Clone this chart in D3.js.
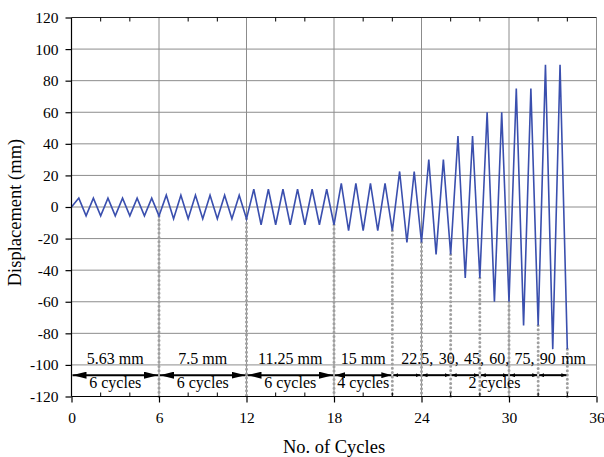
<!DOCTYPE html>
<html>
<head>
<meta charset="utf-8">
<script src="https://cdn.jsdelivr.net/npm/d3@7"></script>
<style>
  body { margin: 0; background: #fff; }
  svg text { font-family: "Liberation Serif", "Times New Roman", serif; fill: #000; }
</style>
</head>
<body>
<div id="vis"></div>
<script>
// half-cycle points of the loading protocol
var cycleNo = [0,
  0.5, 1, 1.5, 2, 2.5, 3, 3.5, 4, 4.5, 5, 5.5, 6,
  6.5, 7, 7.5, 8, 8.5, 9, 9.5, 10, 10.5, 11, 11.5, 12,
  12.5, 13, 13.5, 14, 14.5, 15, 15.5, 16, 16.5, 17, 17.5, 18,
  18.5, 19, 19.5, 20, 20.5, 21, 21.5, 22,
  22.5, 23, 23.5, 24, 24.5, 25, 25.5, 26, 26.5, 27, 27.5, 28,
  28.5, 29, 29.5, 30, 30.5, 31, 31.5, 32, 32.5, 33, 33.5, 34];
var displacement = [0,
  5.63, -5.63, 5.63, -5.63, 5.63, -5.63, 5.63, -5.63, 5.63, -5.63, 5.63, -5.63,
  7.5, -7.5, 7.5, -7.5, 7.5, -7.5, 7.5, -7.5, 7.5, -7.5, 7.5, -7.5,
  11.25, -11.25, 11.25, -11.25, 11.25, -11.25, 11.25, -11.25, 11.25, -11.25, 11.25, -11.25,
  15, -15, 15, -15, 15, -15, 15, -15,
  22.5, -22.5, 22.5, -22.5, 30, -30, 30, -30, 45, -45, 45, -45,
  60, -60, 60, -60, 75, -75, 75, -75, 90, -90, 90, -90];

// amplitude groups
var groupStart = [0, 6, 12, 18];
var groupEnd = [6, 12, 18, 22];
var amplitudeLabels = ["5.63 mm", "7.5 mm", "11.25 mm", "15 mm"];
var cycleLabels = ["6 cycles", "6 cycles", "6 cycles", "4 cycles"];
var smallStart = [22, 24, 26, 28, 30, 32];
var smallEnd = [24, 26, 28, 30, 32, 34];
var lastAmpLabel = "22.5, 30, 45, 60, 75, 90 mm";
var lastCycleLabel = "2 cycles";
var dropAt = [6, 12, 18, 22, 24, 26, 28, 30, 32, 34];

var xTicks = [0, 6, 12, 18, 24, 30, 36];
var xMinor = [2, 4, 8, 10, 14, 16, 20, 22, 26, 28, 32, 34];
var yTicks = [-120, -100, -80, -60, -40, -20, 0, 20, 40, 60, 80, 100, 120];

var W = 604, H = 457;
var pL = 71.5, pR = 596.5, pT = 17.5, pB = 396.5;

var svg = d3.select("#vis").append("svg").attr("width", W).attr("height", H);

var x = d3.scaleLinear().domain([0, 36]).range([pL, pR]);
var y = d3.scaleLinear().domain([-120, 120]).range([pB, pT]);

var defs = svg.append("defs");
function marker(id, len, half, reverse){
  var m = defs.append("marker").attr("id", id)
    .attr("markerUnits", "userSpaceOnUse")
    .attr("markerWidth", len).attr("markerHeight", half * 2)
    .attr("viewBox", "0 0 " + len + " " + (half * 2))
    .attr("refX", reverse ? 0 : len).attr("refY", half)
    .attr("orient", "auto");
  m.append("path").attr("d", reverse
      ? "M0," + half + "L" + len + ",0L" + len + "," + (half * 2) + "Z"
      : "M" + len + "," + half + "L0,0L0," + (half * 2) + "Z")
    .attr("fill", "#000");
}
marker("bigEnd", 14, 3.5, false);
marker("bigStart", 14, 3.5, true);
marker("midEnd", 10, 3, false);
marker("midStart", 10, 3, true);
marker("smEnd", 5, 2, false);
marker("smStart", 5, 2, true);

// gridlines
svg.append("g").selectAll("line").data(yTicks.filter(function(d){ return d > -120 && d < 120; }))
  .enter().append("line")
  .attr("x1", pL).attr("x2", pR)
  .attr("y1", function(d){ return y(d); }).attr("y2", function(d){ return y(d); })
  .attr("stroke", "#8c8c8c").attr("stroke-width", 1);
svg.append("g").selectAll("line").data(xTicks.filter(function(d){ return d > 0 && d < 36; }))
  .enter().append("line")
  .attr("y1", pT).attr("y2", pB)
  .attr("x1", function(d){ return x(d); }).attr("x2", function(d){ return x(d); })
  .attr("stroke", "#8c8c8c").attr("stroke-width", 1);

// right border
svg.append("line").attr("x1", pR).attr("x2", pR).attr("y1", pT).attr("y2", pB)
  .attr("stroke", "#8c8c8c");

// dotted drop lines from trough to bottom
svg.append("g").selectAll("line").data(dropAt).enter().append("line")
  .attr("x1", function(d){ return x(d); }).attr("x2", function(d){ return x(d); })
  .attr("y1", function(d){ return y(displacement[cycleNo.indexOf(d)]); })
  .attr("y2", pB)
  .attr("stroke", "#a0a0a0").attr("stroke-width", 3)
  .attr("stroke-linecap", "round").attr("stroke-dasharray", "0,4.3");

// displacement history
var pts = cycleNo.map(function(c, i){ return [c, displacement[i]]; });
svg.append("path").datum(pts)
  .attr("d", d3.line().x(function(d){ return x(d[0]); }).y(function(d){ return y(d[1]); }))
  .attr("fill", "none").attr("stroke", "#3a4fae").attr("stroke-width", 1.6)
  .attr("stroke-linejoin", "miter");

// axes
var fmt = function(d){ return String(d); };
var xAxis = svg.append("g").attr("transform", "translate(0," + pB + ")")
  .call(d3.axisBottom(x).tickValues(xTicks).tickSize(6).tickPadding(9).tickFormat(fmt));
var yAxis = svg.append("g").attr("transform", "translate(" + pL + ",0)")
  .call(d3.axisLeft(y).tickValues(yTicks).tickSize(6).tickPadding(7).tickFormat(fmt));
[xAxis, yAxis].forEach(function(a){
  a.select(".domain").attr("stroke", "#000").attr("stroke-width", 1.2);
  a.selectAll(".tick line").attr("stroke", "#000").attr("stroke-width", 1.2);
  a.selectAll("text").style("font-size", "15.5px")
    .style("font-family", "'Liberation Serif', 'Times New Roman', serif");
});
xAxis.select(".domain").attr("d", "M" + pL + ",0H" + pR);
yAxis.select(".domain").attr("d", "M0," + pT + "V" + pB);

// top border and minor ticks
svg.append("line").attr("x1", pL).attr("x2", pR).attr("y1", pT).attr("y2", pT)
  .attr("stroke", "#222").attr("stroke-width", 1.2);
svg.append("g").selectAll("line").data(xMinor).enter().append("line")
  .attr("x1", function(d){ return x(d); }).attr("x2", function(d){ return x(d); })
  .attr("y1", pT).attr("y2", pT + 4).attr("stroke", "#000");
svg.append("g").selectAll("line").data(xMinor).enter().append("line")
  .attr("x1", function(d){ return x(d); }).attr("x2", function(d){ return x(d); })
  .attr("y1", pB).attr("y2", pB - 4).attr("stroke", "#000");

// annotation arrows
var arrowY = y(-106.5);
var sizes = ["big", "big", "big", "mid"];
groupStart.forEach(function(s, i){
  svg.append("line").attr("x1", x(s) + 1).attr("x2", x(groupEnd[i]) - 1)
    .attr("y1", arrowY).attr("y2", arrowY)
    .attr("stroke", "#000").attr("stroke-width", 2)
    .attr("marker-start", "url(#" + sizes[i] + "Start)")
    .attr("marker-end", "url(#" + sizes[i] + "End)");
  svg.append("text").attr("x", x((s + groupEnd[i]) / 2)).attr("y", y(-100) - 1)
    .attr("text-anchor", "middle").style("font-size", "16px").text(amplitudeLabels[i]);
  svg.append("text").attr("x", x((s + groupEnd[i]) / 2)).attr("y", y(-114.5))
    .attr("text-anchor", "middle").style("font-size", "16px").text(cycleLabels[i]);
});
smallStart.forEach(function(s, i){
  svg.append("line").attr("x1", x(s) + 1).attr("x2", x(smallEnd[i]) - 1)
    .attr("y1", arrowY).attr("y2", arrowY)
    .attr("stroke", "#000").attr("stroke-width", 2)
    .attr("marker-start", "url(#smStart)").attr("marker-end", "url(#smEnd)");
});
svg.append("text").attr("x", x(28.95)).attr("y", y(-100) - 1)
  .attr("text-anchor", "middle").style("font-size", "16px").style("word-spacing", "1.3px")
  .text(lastAmpLabel);
svg.append("text").attr("x", x(29)).attr("y", y(-114.5))
  .attr("text-anchor", "middle").style("font-size", "16px").text(lastCycleLabel);

// axis titles
svg.append("text").attr("x", x(18)).attr("y", 453)
  .attr("text-anchor", "middle").style("font-size", "18.5px").text("No. of Cycles");
svg.append("text").attr("transform", "translate(21," + y(-3.5) + ") rotate(-90)")
  .attr("text-anchor", "middle").style("font-size", "18.5px").text("Displacement (mm)");
</script>
</body>
</html>
